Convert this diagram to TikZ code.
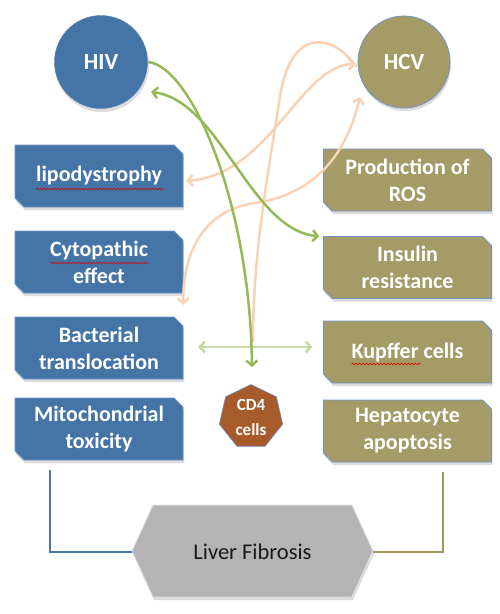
\documentclass[tikz,border=0pt]{standalone}
\usepackage{fontspec}
\setmainfont{Carlito}
\usetikzlibrary{arrows.meta,shapes.geometric,calc,decorations.pathmorphing}
\definecolor{hivblue}{HTML}{4574A6}
\definecolor{hcvolive}{HTML}{A59B67}
\definecolor{edgeblue}{HTML}{6E95C8}
\definecolor{cdbrown}{HTML}{A85B2A}
\definecolor{livergray}{HTML}{B4B4B4}
\definecolor{arrgreen}{HTML}{94B955}
\definecolor{lightgreen}{HTML}{C5D9A0}
\definecolor{peach}{HTML}{F9D2B4}
\definecolor{shadowgray}{HTML}{8A8A8A}
\definecolor{lineblue}{HTML}{4A78AC}
\definecolor{lineolive}{HTML}{A09660}
\newcommand\snipbox[5]{%
  \fill[shadowgray, opacity=0.3] (#2+1,#3+3) ++(-84,-31) -- ++(159,0) -- ++(9,9) -- ++(0,53) -- ++(-159,0) -- ++(-9,-9) -- cycle;
  \filldraw[fill=#4, draw=edgeblue, line width=0.8pt] (#2,#3) ++(-84,-31) -- ++(159,0) -- ++(9,9) -- ++(0,53) -- ++(-159,0) -- ++(-9,-9) -- cycle;
  \node[boxtext] (#1) at (#2,#3) {#5};}
\begin{document}
\begin{tikzpicture}[x=1pt,y=-1pt,
  boxtext/.style={text=white, font=\fontsize{22}{27}\selectfont\bfseries, align=center, minimum width=168pt, minimum height=62pt, inner sep=0pt},
  virus/.style={circle, minimum size=93pt, inner sep=0pt, text=white, font=\fontsize{23}{27}\selectfont\bfseries},
  tipb/.tip={Straight Barb[length=5pt,width=11pt]},
  garrow/.style={draw=arrgreen, line width=2.5pt, -tipb},
  garrowboth/.style={draw=arrgreen, line width=2.5pt, tipb-tipb},
  lgarrow/.style={draw=lightgreen, line width=2.5pt, tipb-tipb},
  pline/.style={draw=peach, line width=2.5pt},
  parrowboth/.style={draw=peach, line width=2.5pt, tipb-tipb},
  squiggle/.style={draw=red!85!black, line width=0.6pt, decorate, decoration={snake, amplitude=0.9pt, segment length=3.5pt}},
  conn/.style={line width=2pt}]
\useasboundingbox (0,0) rectangle (500,614);

% virus circles
\fill[shadowgray, opacity=0.3] (102,65) circle (47);
\node[virus, fill=hivblue, draw=hivblue!90!white] (hiv) at (101,62) {HIV};
\fill[shadowgray, opacity=0.3] (405,65) circle (46);
\node[virus, fill=hcvolive, draw=edgeblue, line width=0.8pt, minimum size=92pt] (hcv) at (404,62) {HCV};

% left column
\snipbox{lipo}{99}{176}{hivblue}{lipodystrophy}
\snipbox{cyto}{99}{262}{hivblue}{Cytopathic\\effect}
\snipbox{bact}{99}{348}{hivblue}{Bacterial\\translocation}
\snipbox{mito}{99}{429}{hivblue}{Mitochondrial\\toxicity}

% right column
\snipbox{ros}{407.5}{180}{hcvolive}{Production of\\ROS}
\snipbox{ins}{407.5}{267.5}{hcvolive}{Insulin\\resistance}
\snipbox{kupf}{407.5}{352}{hcvolive}{Kupffer cells}
\snipbox{hepa}{407.5}{431}{hcvolive}{Hepatocyte\\apoptosis}

% spell-check squiggles
\draw[squiggle] ($(lipo.center)+(-63,13)$) -- ++(127,0);
\draw[squiggle] ($(cyto.center)+(-49,1)$) -- ++(98,0);
\draw[squiggle] ($(kupf.center)+(-56,12)$) -- ++(69,0);

% CD4 cells
\node[regular polygon, regular polygon sides=7, minimum size=65pt, inner sep=0pt,
      fill=cdbrown, draw=edgeblue, line width=0.6pt, text=white,
      font=\fontsize{17}{25}\selectfont\bfseries, align=center] (cd4) at (251,417) {CD4\\cells};

% Liver fibrosis hexagon
\fill[shadowgray, opacity=0.3] (133,554) -- (154,508) -- (353,508) -- (374,554) -- (353,600) -- (154,600) -- cycle;
\filldraw[fill=livergray, draw=gray!25, line width=1pt] (132,551) -- (153,505) -- (352,505) -- (373,551) -- (352,597) -- (153,597) -- cycle;
\node[minimum width=241pt, minimum height=92pt, inner sep=0pt, font=\fontsize{22.5}{27}\selectfont, text=black!90] (liver) at (252.5,552) {Liver Fibrosis};

% connectors to liver fibrosis
\draw[conn, lineblue] ($(mito.south west)+(35,10)$) |- (liver.west);
\draw[conn, lineolive] ($(hepa.south east)+(-49,10)$) |- (liver.east);

% peach arrows (HCV)
\draw[pline] ($(hcv.west)+(-1,5)$) .. controls (330,30) and (290,30) .. (280,97)
   .. controls (265,190) and (253,260) .. ($(cd4.north)+(2,-42)$);
\draw[parrowboth] ($(hcv.west)+(-2,2)$) .. controls (300,65) and (270,175) .. ($(lipo.east)+(3,5)$);
\draw[parrowboth] ($(hcv.center)+(-44,35)$) .. controls (345,160) and (310,195) .. (255,203)
   .. controls (205,210) and (183,250) .. ($(bact.north east)+(0,-12)$);

% light green horizontal arrow
\draw[lgarrow] ($(bact.east)+(15,-1)$) -- ($(kupf.west)+(-11,-5)$);

% green arrows (HIV)
\draw[garrow] (hiv.east) .. controls (190,65) and (250,200) .. ($(cd4.north)+(1,-17)$);
\draw[garrowboth] ($(hiv.center)+(50,30)$) .. controls (220,100) and (250,230) .. ($(ins.north west)+(-4,0)$);
\end{tikzpicture}
\end{document}
